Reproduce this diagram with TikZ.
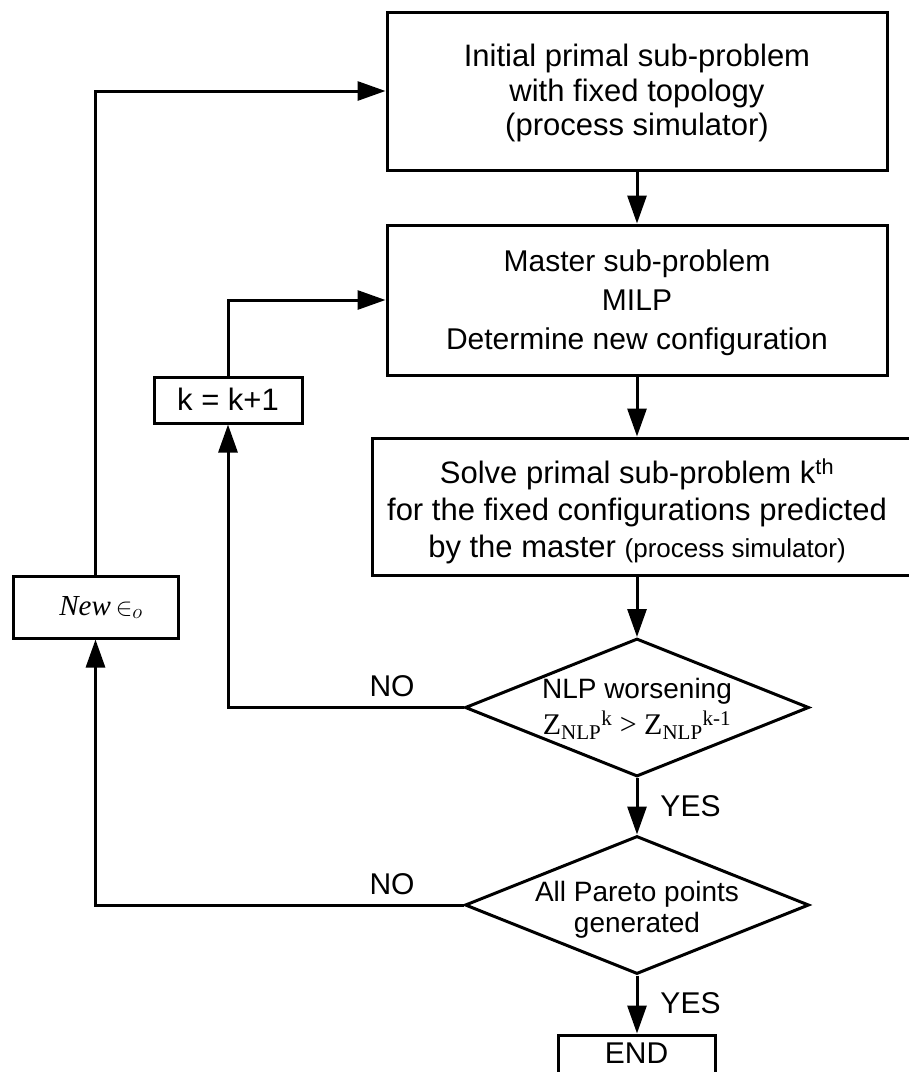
\documentclass[tikz,border=0pt]{standalone}
\usepackage{fontspec}
\setmainfont{Liberation Sans}
\newfontfamily\serifz{Liberation Serif}
\usetikzlibrary{arrows.meta,shapes.geometric}
\begin{document}
\begin{tikzpicture}[x=1pt,y=-1pt,
  boxs/.style={draw,line width=3pt,inner sep=0pt},
  dia/.style={draw,diamond,line width=3pt,inner sep=0pt,minimum width=344,minimum height=138},
  conn/.style={line width=3pt,-{Triangle[length=28pt,width=19pt]}},
  plain/.style={line width=3pt},
  txt/.style={align=center,inner sep=0pt},
  big/.style={font=\fontsize{31}{35}\selectfont},
  lab/.style={inner sep=0pt,anchor=base,font=\fontsize{30}{36}\selectfont}]
\useasboundingbox (0,0) rectangle (909,1072);
\clip (0,0) rectangle (909,1072);
% boxes
\node[boxs,minimum width=500,minimum height=158] (top) at (637,91) {};
\node[boxs,minimum width=500,minimum height=150] (master) at (637,300) {};
\node[boxs,minimum width=543,minimum height=137] (solve) at (643.5,506.5) {};
\node[dia] (d1) at (637,707.5) {};
\node[dia] (d2) at (637,905) {};
\node[boxs,minimum width=157,minimum height=80] (endb) at (636.5,1075) {};
\node[boxs,minimum width=148,minimum height=46] (kbox) at (228,400) {};
\node[boxs,minimum width=165,minimum height=62] (newb) at (95.5,607) {};
% texts
\node[txt,font=\fontsize{31}{34.5}\selectfont] (toptext) at (637,93) {Initial primal sub-problem\\with fixed topology\\(process simulator)};
\node[txt,font=\fontsize{30}{39}\selectfont] (mastertext) at (637,303) {Master sub-problem\\MILP\\Determine new configuration};
\node[txt,font=\fontsize{31}{37}\selectfont] (solvetext) at (637,511) {Solve primal sub-problem k\textsuperscript{th}\\for the fixed configurations predicted\\by the master {\fontsize{26}{37}\selectfont(process simulator)}};
\node[txt,font=\fontsize{28}{36}\selectfont] (d1text) at (637,709) {NLP worsening\\{\serifz\fontsize{30}{36}\selectfont Z\textsubscript{NLP}\textsuperscript{k} > Z\textsubscript{NLP}\textsuperscript{k-1}}};
\node[txt,font=\fontsize{28}{31}\selectfont] (d2text) at (637,909.5) {All Pareto points\\generated};
\node[lab] (endtext) at (636.5,1063) {END};
\node[lab,font=\fontsize{31}{36}\selectfont] (ktext) at (228,410) {k = k+1};
\node[lab,font=\fontsize{29}{36}\selectfont] (newtext) at (101,615) {{\serifz\itshape New}\,$\in_{o}$};
\node[lab] (no1) at (392,696) {NO};
\node[lab] (no2) at (392,894) {NO};
\node[lab] (yes1) at (690.5,816) {YES};
\node[lab] (yes2) at (690.5,1013) {YES};
% connectors
\draw[conn] (top.south) -- (master.north);
\draw[conn] (master.south) -- (master.south |- solve.north);
\draw[conn] (d1.north |- solve.south) -- (d1.north);
\draw[conn] (d1.south) -- (d2.north);
\draw[conn] (d2.south) -- (d2.south |- endb.north);
\draw[conn] (d1.west) -| (kbox.south);
\draw[conn] (kbox.north) |- (master.west);
\draw[conn] (d2.west) -| (newb.south);
\draw[conn] (newb.north) |- (top.west);
\end{tikzpicture}
\end{document}
